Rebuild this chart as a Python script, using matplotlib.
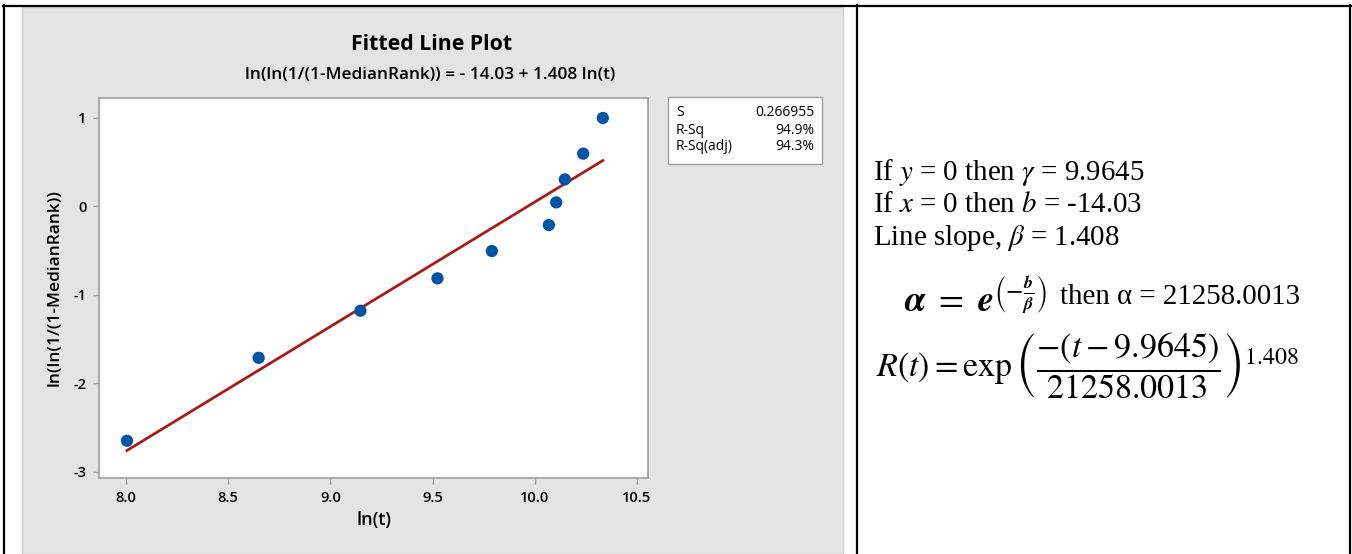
import matplotlib.pyplot as plt
import numpy as np
from matplotlib.patches import Rectangle
from matplotlib.lines import Line2D

# data
ln_t = [8.005, 8.649, 9.147, 9.524, 9.790, 10.069, 10.105, 10.147, 10.237, 10.333]
ln_ln_mr = [-2.649, -1.711, -1.179, -0.813, -0.504, -0.210, 0.046, 0.306, 0.597, 1.0]
intercept = -14.03
slope = 1.408
gamma = 9.9645
alpha = 21258.0013
stat_names = ["S", "R-Sq", "R-Sq(adj)"]
stat_values = ["0.266955", "94.9%", "94.3%"]
xticks = [8.0, 8.5, 9.0, 9.5, 10.0, 10.5]
yticks = [-3, -2, -1, 0, 1]

W, H = 1352, 554
plt.rcParams['font.family'] = ['Open Sans', 'DejaVu Sans']
plt.rcParams['mathtext.fontset'] = 'stix'
plt.rcParams['axes.unicode_minus'] = False

fig = plt.figure(figsize=(W/100, H/100), dpi=100)

def fx(x):
	return x/W

def fy(y):
	return 1 - y/H

# table frame and grey panel
fig.patches.append(Rectangle((fx(22), 0), fx(843)-fx(22), fy(7), transform=fig.transFigure,
	facecolor='#e4e4e4', edgecolor='#cfcfcf', lw=1, zorder=-2))
for xs, ys in [([3, 1352], [5.5, 5.5]), ([4, 4], [5, 554]), ([857, 857], [5, 554]), ([1350, 1350], [5, 554])]:
	fig.add_artist(Line2D([fx(v) for v in xs], [fy(v) for v in ys], transform=fig.transFigure,
		color='black', lw=1.6, zorder=-1))

# plot area
ax = fig.add_axes([fx(99), fy(478), fx(648)-fx(99), fy(98)-fy(478)])
ax.set_zorder(2)
ax.set_facecolor('white')
ax.scatter(ln_t, ln_ln_mr, s=78, color='#0054a6', zorder=3, edgecolors='none')
xl = np.array([min(ln_t), max(ln_t)])
ax.plot(xl, intercept + slope*xl, color='#a61c1c', lw=2.0, zorder=2)
ax.set_xlim(7.868, 10.554)
ax.set_ylim(-3.07, 1.226)
ax.set_xticks(xticks)
ax.set_xticklabels([f"{v:.1f}" for v in xticks])
ax.set_yticks(yticks)
for s in ax.spines.values():
	s.set_color('#a0a0a0')
	s.set_linewidth(1.2)
ax.tick_params(length=4, width=1, color='#a0a0a0', labelsize=10.5, pad=5)
for lab in ax.get_xticklabels() + ax.get_yticklabels():
	lab.set_fontweight('semibold')
ax.set_xlabel("ln(t)", fontsize=13, fontweight='semibold', labelpad=5)
ax.set_ylabel("ln(ln(1/(1-MedianRank))", fontsize=12.5, fontweight='semibold', labelpad=8)

# titles
fig.text(fx(432), fy(45), "Fitted Line Plot", ha='center', va='center', fontsize=15.3, fontweight='bold')
fig.text(fx(430), fy(75), f"ln(ln(1/(1-MedianRank)) = - {abs(intercept):.2f} + {slope:.3f} ln(t)",
	ha='center', va='center', fontsize=12.4, fontweight='semibold')

# stats box
fig.patches.append(Rectangle((fx(668), fy(164)), fx(822)-fx(668), fy(97)-fy(164), transform=fig.transFigure,
	facecolor='white', edgecolor='#a0a0a0', lw=1, zorder=1))
for i, (n, v) in enumerate(zip(stat_names, stat_values)):
	yy = fy(113 + i*17)
	fig.text(fx(676), yy, n, ha='left', va='center', fontsize=10)
	fig.text(fx(814), yy, v, ha='right', va='center', fontsize=10)

# right-hand notes
serif = ['Liberation Serif', 'DejaVu Serif']
fs = 20.8
fig.text(fx(873), fy(172), f"If $y$ = 0 then $\\gamma$ = {gamma}", family=serif, fontsize=fs, va='center')
fig.text(fx(873), fy(205), f"If $x$ = 0 then $b$ = {intercept}", family=serif, fontsize=fs, va='center')
fig.text(fx(873), fy(238), f"Line slope, $\\beta$ = {slope}", family=serif, fontsize=fs, va='center')
fig.text(fx(904), fy(298), r"$\boldsymbol{\alpha}\ =\ \boldsymbol{e}^{\left(-\frac{\boldsymbol{b}}{\boldsymbol{\beta}}\right)}$",
	family=serif, fontsize=26, va='center')
fig.text(fx(1060), fy(297), f"then α = {alpha}", family=serif, fontsize=fs, va='center')
fig.text(fx(876), fy(366),
	r"$R(t) = \exp\left(\dfrac{-(t-%s)}{%s}\right)^{%s}$" % (gamma, alpha, slope),
	family=serif, fontsize=24.5, va='center')

fig.savefig("out.png", dpi=100)
